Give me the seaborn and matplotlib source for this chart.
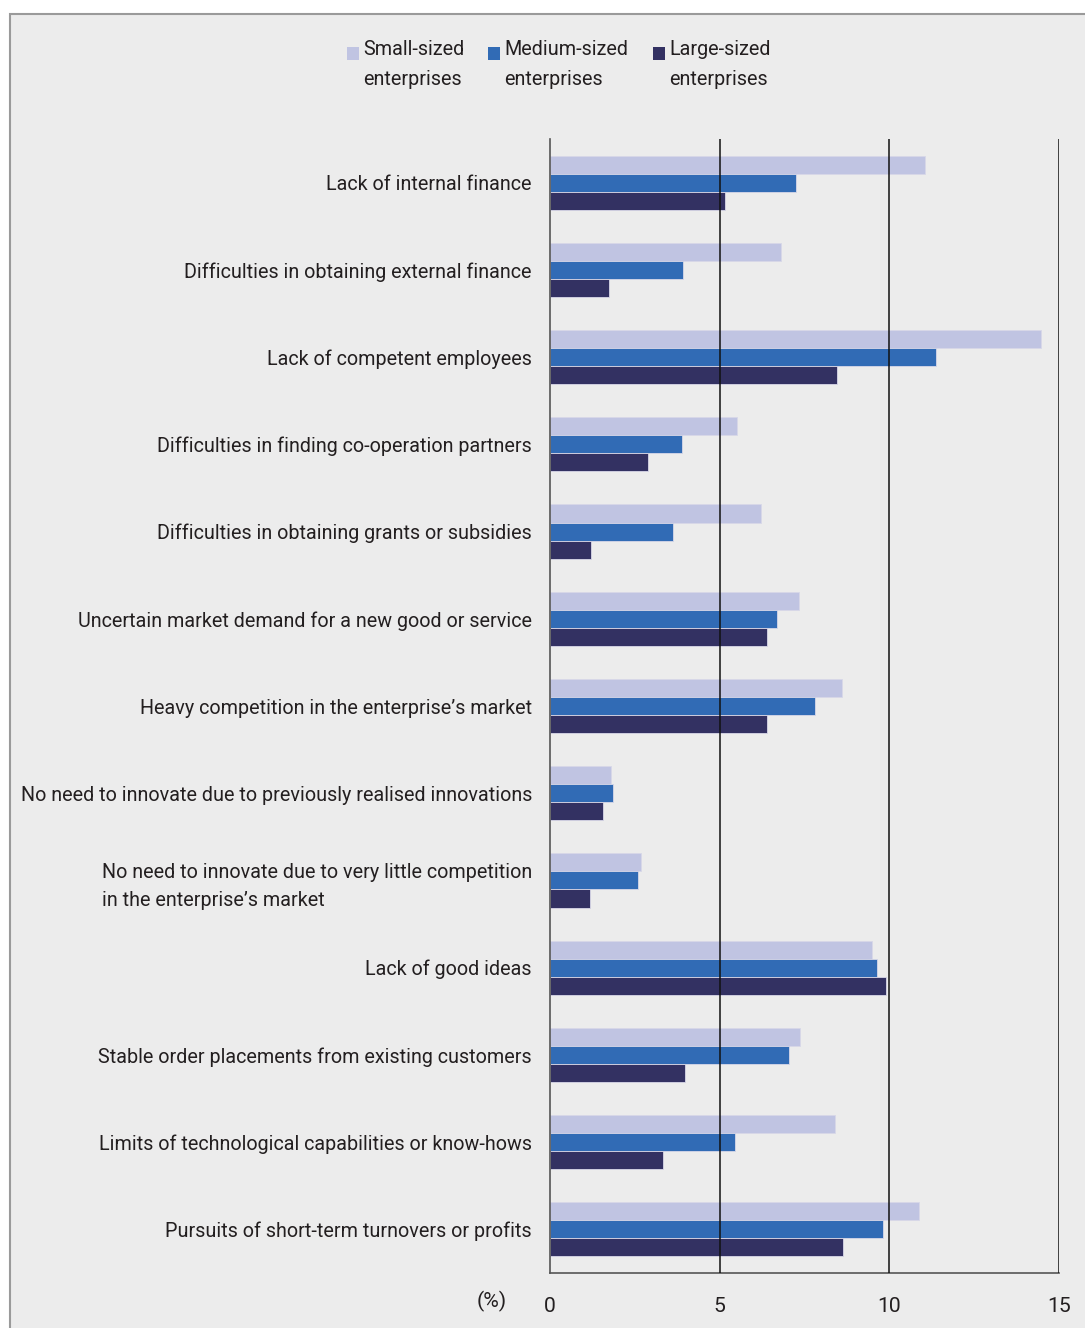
import matplotlib
matplotlib.use("Agg")
import matplotlib.pyplot as plt
from matplotlib.patches import Rectangle
import seaborn as sns
import pandas as pd
import numpy as np

categories = [
    "Lack of internal finance",
    "Difficulties in obtaining external finance",
    "Lack of competent employees",
    "Difficulties in finding co-operation partners",
    "Difficulties in obtaining grants or subsidies",
    "Uncertain market demand for a new good or service",
    "Heavy competition in the enterprise\u2019s market",
    "No need to innovate due to previously realised innovations",
    "No need to innovate due to very little competition\nin the enterprise\u2019s market",
    "Lack of good ideas",
    "Stable order placements from existing customers",
    "Limits of technological capabilities or know-hows",
    "Pursuits of short-term turnovers or profits",
]
small = [11.05, 6.80, 14.47, 5.51, 6.22, 7.34, 8.60, 1.80, 2.68, 9.49, 7.37, 8.40, 10.88]
medium = [7.25, 3.92, 11.38, 3.89, 3.63, 6.69, 7.81, 1.86, 2.59, 9.64, 7.04, 5.45, 9.81]
large = [5.16, 1.74, 8.46, 2.89, 1.21, 6.40, 6.40, 1.56, 1.18, 9.90, 3.98, 3.33, 8.64]
series = ["Small-sized\nenterprises", "Medium-sized\nenterprises", "Large-sized\nenterprises"]
colors = ["#c0c4e2", "#316bb5", "#333162"]
xticks = [0, 5, 10, 15]

sns.set_theme(style="white")
plt.rcParams['font.family'] = ['Roboto', 'DejaVu Sans']
txt = "#231f20"
FS = 14.2

rows = []
for s, vals in zip(series, [small, medium, large]):
    for c, v in zip(categories, vals):
        rows.append({"cat": c, "series": s, "val": v})
df = pd.DataFrame(rows)

W, H = 1085, 1328
fig = plt.figure(figsize=(W / 100, H / 100), dpi=100, facecolor="white")
bg = Rectangle((10 / W, -0.1), 1.2, 1 - 14 / H + 0.1, transform=fig.transFigure,
               facecolor="#ececec", edgecolor="#9a9a9a", linewidth=1.5, zorder=-10)
fig.patches.append(bg)

ax = fig.add_axes([550 / W, 1 - 1273 / H, (1059 - 550) / W, (1273 - 139) / H])
ax.set_zorder(2)
ax.patch.set_alpha(0)
sns.barplot(data=df, y="cat", x="val", hue="series", orient="h", palette=colors,
            width=0.62, ax=ax, legend=False, edgecolor="#d8d8e8", linewidth=0.6, saturation=1)

ax.set_xlim(0, 15)
ax.set_ylim(len(categories) - 0.5, -0.5)
ax.set_xticks(xticks)
ax.set_xticklabels([str(t) for t in xticks], fontsize=FS + 1, color=txt)
for t in xticks[1:]:
    ax.axvline(t, color="#111111", linewidth=1.1, zorder=5)
ax.tick_params(axis="x", direction="out", length=9, width=1.1, color="#333333", pad=8)
ax.set_yticks(range(len(categories)))
ax.set_yticklabels(categories, fontsize=FS, color=txt)
for lab in ax.get_yticklabels():
    lab.set_multialignment("left")
    lab.set_linespacing(1.55)
ax.set_yticks(np.arange(-0.5, len(categories), 1.0), minor=True)
ax.tick_params(axis="y", which="major", length=0, pad=13)
ax.tick_params(axis="y", which="minor", direction="out", length=5, width=1.1, color="#555555")
ax.set_xlabel("")
ax.set_ylabel("")
for side in ["top", "right"]:
    ax.spines[side].set_visible(False)
for side in ["left", "bottom"]:
    ax.spines[side].set_color("#555555")
    ax.spines[side].set_linewidth(1.2)

fig.text(492 / W, 1 - 1301 / H, "(%)", ha="center", va="center", fontsize=FS + 1, color=txt)

# legend
lx = [347, 488, 653]
for x0, s, c in zip(lx, series, colors):
    fig.patches.append(Rectangle((x0 / W, 1 - 60 / H), 12 / W, 13 / H, transform=fig.transFigure,
                                 facecolor=c, edgecolor="none", zorder=3))
    fig.text((x0 + 16) / W, 1 - 40 / H, s, ha="left", va="top", fontsize=FS, color=txt,
             linespacing=1.75)

fig.savefig("out.png", dpi=100, facecolor="white")
